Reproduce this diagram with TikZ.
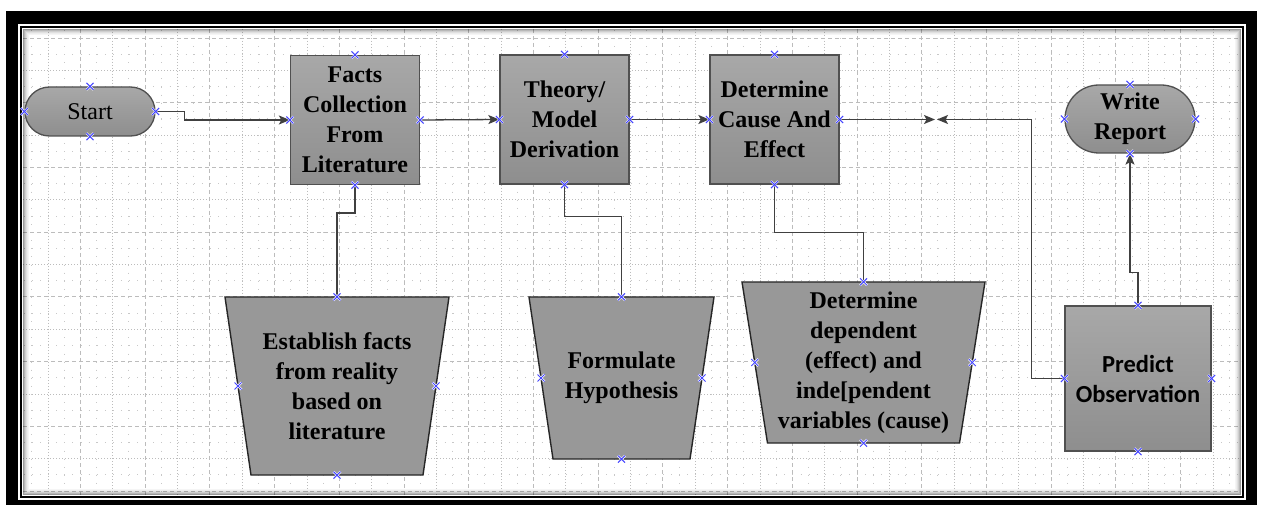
\documentclass[tikz,border=0pt]{standalone}
\usepackage{fontspec}
\setmainfont{Liberation Serif}
\newfontfamily\predfont{Carlito}
\usetikzlibrary{arrows.meta,shapes.misc,calc}

\definecolor{boxtop}{HTML}{A8A8A8}
\definecolor{boxbot}{HTML}{8E8E8E}
\definecolor{trapfill}{HTML}{989898}
\definecolor{boxline}{HTML}{505050}
\definecolor{connline}{HTML}{404040}
\definecolor{gridline}{HTML}{BCBCBC}
\definecolor{griddot}{HTML}{C8C8C8}
\definecolor{cpblue}{HTML}{4646FF}

\tikzset{
  lbl/.style={align=center, font=\bfseries\fontsize{24}{30}\selectfont, text=black},
  procbox/.style={lbl, draw=boxline, line width=1.3, top color=boxtop, bottom color=boxbot,
    inner sep=0, minimum width=129, minimum height=129},
  terminal/.style={lbl, rounded rectangle, draw=boxline, line width=1.3, top color=boxtop,
    bottom color=boxbot, inner sep=0, minimum width=130},
  trapshape/.style={draw=black!85, line width=1.4, fill=trapfill, line join=miter},
  traplabel/.style={lbl, inner sep=0},
  conn/.style={draw=connline, line width=1.3},
  arr/.style={-{Stealth[length=11pt,width=9pt,inset=2.5pt]}},
  gdash/.style={draw=gridline, line width=0.8, dash pattern=on 4pt off 3pt},
  gdot/.style={draw=gridline, line width=0.7, dash pattern=on 1pt off 2pt},
  gsparse/.style={draw=griddot, line width=0.9, dash pattern=on 0.9pt off 7.19pt},
  cphalo/.style={draw=white, line width=2.2},
  cpline/.style={draw=cpblue, line width=1},
}

% connection-point cross at a named point
\newcommand\cpcross[1]{%
  \draw[cphalo] ($(#1)+(-3.5,-3.5)$) -- ($(#1)+(3.5,3.5)$) ($(#1)+(-3.5,3.5)$) -- ($(#1)+(3.5,-3.5)$);
  \draw[cpline] ($(#1)+(-3.5,-3.5)$) -- ($(#1)+(3.5,3.5)$) ($(#1)+(-3.5,3.5)$) -- ($(#1)+(3.5,-3.5)$);}

% inverted trapezoid: name, centre x, centre y, top width, height, side inset, text
\newcommand\invtrap[7]{%
  \path[trapshape] ({#2-#4/2},{#3-#5/2}) -- ({#2+#4/2},{#3-#5/2})
    -- ({#2+#4/2-#6},{#3+#5/2}) -- ({#2-#4/2+#6},{#3+#5/2}) -- cycle;
  \node[traplabel, minimum width=#4, minimum height=#5] (#1) at (#2,#3) {#7};
  \coordinate (#1-top) at (#1.north);
  \coordinate (#1-bot) at (#1.south);
  \coordinate (#1-l) at ({#2-#4/2+#6/2},#3);
  \coordinate (#1-r) at ({#2+#4/2-#6/2},#3);}

\begin{document}
\begin{tikzpicture}[x=1pt,y=-1pt]
\useasboundingbox (0,0) rectangle (1262,505);

% double frame
\fill[black] (6,11) rectangle (1257,505);
\fill[white] (18,24) rectangle (1246,500);
\draw[black, line width=2] (21,27) rectangle (1243,497);
\fill[white] (22,28) rectangle (1242,496);

% drawing grid
\begin{scope}
  \clip (23,29) rectangle (1241,495);
  \foreach \k in {-1,0,...,37}
    \draw[gsparse] ({64.18+32.36*\k},29.91) -- ({64.18+32.36*\k},495);
  \foreach \k in {-1,0,...,14}
    \draw[gsparse] (23.9,{54.18+32.36*\k}) -- (1241,{54.18+32.36*\k});
  \foreach \k in {0,2,...,38}
    \draw[gdot] ({48+32.36*\k},29) -- ({48+32.36*\k},495);
  \foreach \k in {1,3,...,37}
    \draw[gdash] ({48+32.36*\k},29) -- ({48+32.36*\k},495);
  \foreach \k in {0,2,...,14}
    \draw[gdash] (23,{38+32.36*\k}) -- (1241,{38+32.36*\k});
  \foreach \k in {1,3,...,13}
    \draw[gdot] (23,{38+32.36*\k}) -- (1241,{38+32.36*\k});
  % inner shading along the edges of the sheet
  \foreach \d/\o in {0.5/0.40,1.5/0.28,2.5/0.19,3.5/0.12,4.5/0.07,5.5/0.04}
    \draw[black, opacity=\o, line width=1] (23+\d,29+\d) rectangle (1241-\d,495-\d);
\end{scope}

% process shapes
\node[terminal, font=\fontsize{24}{30}\selectfont, minimum height=49] (start) at (90,111.5) {Start};
\node[procbox] (facts) at (355,120) {Facts\\Collection\\From\\Literature};
\node[procbox] (theory) at (564.5,119.5) {Theory/\\Model\\Derivation};
\node[procbox] (cause) at (774.5,119.5) {Determine\\Cause And\\Effect};
\node[terminal, minimum height=68] (report) at (1130,119) {Write\\Report};
\node[procbox, font=\predfont\bfseries\fontsize{24.5}{30}\selectfont,
      minimum width=146, minimum height=145] (predict) at (1138,378.5) {Predict\\Observation};

\invtrap{establish}{337}{386}{224}{178}{26}{Establish facts\\from reality\\based on\\literature}
\invtrap{hypo}{621.5}{378}{185}{162}{24}{Formulate\\Hypothesis}
\invtrap{vars}{863.5}{362.5}{243}{161}{25.5}{Determine\\dependent\\(effect) and\\inde[pendent\\variables (cause)}

% meeting point of the two arrows
\coordinate (meetL) at (935,119.5);
\coordinate (meetR) at (937,119.5);

% connectors
\draw[conn,arr] (start.east) -- ++(29,0) |- (facts.west);
\draw[conn,arr] (facts.east) -- (theory.west);
\draw[conn,arr] (theory.east) -- (cause.west);
\draw[conn,arr] (cause.east) -- (meetL);
\draw[conn,arr] (predict.west) -- ++(-33,0) |- (meetR);
\draw[conn,arr] (predict.north) -- ++(0,-33) -| (report.south);
\draw[conn] (facts.south) -- ++(0,28) -| (establish.north);
\draw[conn] (theory.south) -- ++(0,32) -| (hypo.north);
\draw[conn] (cause.south) -- ++(0,48) -| (vars.north);

% connection points
\foreach \n in {start,facts,theory,cause,report,predict}
  \foreach \a in {north,south,east,west}
    \cpcross{\n.\a};
\foreach \n in {establish,hypo,vars}
  \foreach \a in {top,bot,l,r}
    \cpcross{\n-\a};
\end{tikzpicture}
\end{document}
